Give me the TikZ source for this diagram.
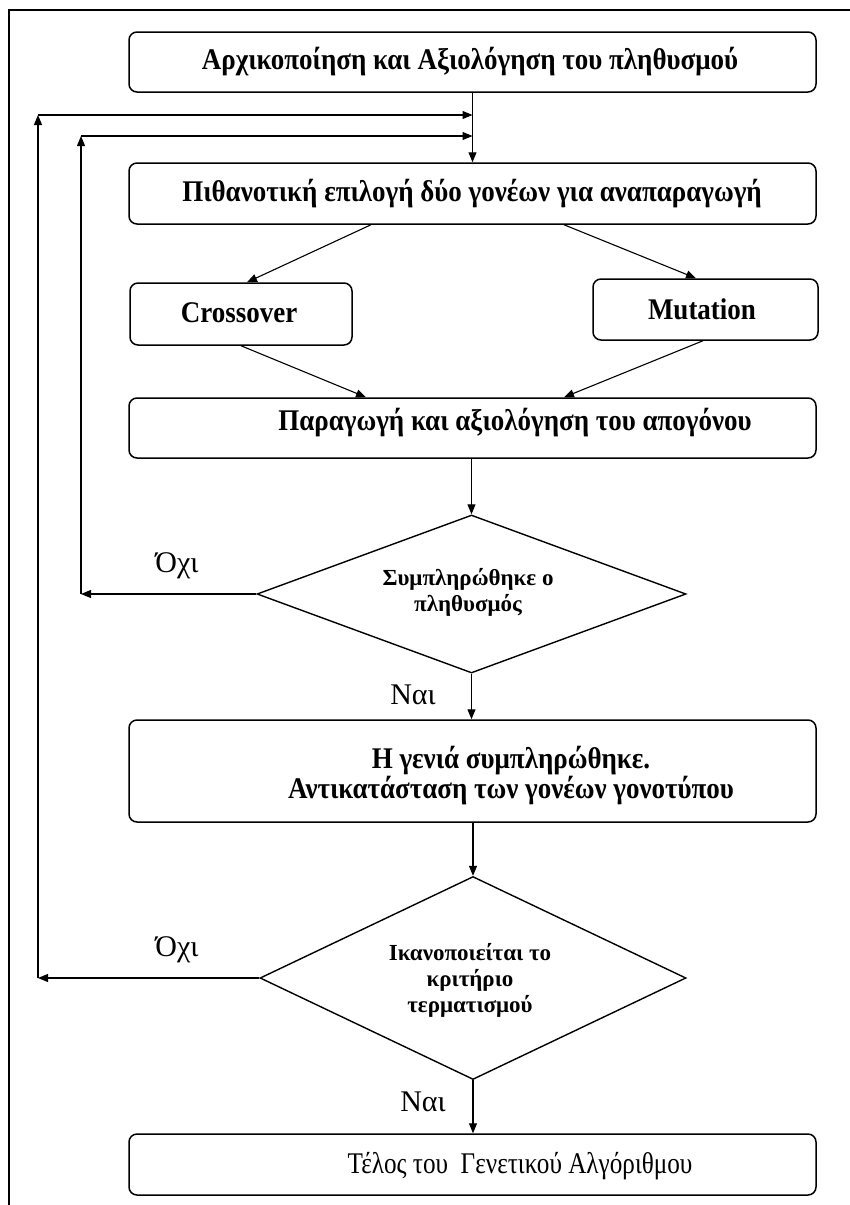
\documentclass[tikz,border=0pt]{standalone}
\usepackage{fontspec}
\setmainfont{Liberation Serif}
\newfontfamily\cndfont[FakeStretch=0.90]{Liberation Serif}
\newfontfamily\narfont[FakeStretch=0.84]{Liberation Serif}
\usetikzlibrary{shapes.geometric,arrows.meta}
\begin{document}
\begin{tikzpicture}[x=1pt,y=-1pt,
  box/.style={draw, rounded corners=8pt, line width=1.5pt, inner sep=0pt, minimum width=687pt},
  dia/.style={draw, diamond, line width=1.4pt, inner sep=0pt},
  arr/.style={-{Triangle[length=10pt,width=8pt]}, line width=1.1pt},
  bt/.style={font=\fontsize{30}{30}\cndfont\bfseries, inner sep=0pt, align=center},
  et/.style={font=\fontsize{30}{30}\narfont, inner sep=0pt, align=center},
  dt/.style={font=\fontsize{23}{26}\selectfont\bfseries, inner sep=0pt, align=center},
  lt/.style={font=\fontsize{30}{30}\selectfont, inner sep=0pt}]
\useasboundingbox (0,0) rectangle (850,1205);
\fill[white] (0,0) rectangle (850,1205);
\draw[line width=1.4pt] (9,1205) -- (9,10) -- (850,10);

% boxes
\node[box, minimum height=60pt] (b1) at (472.5,62) {};
\node[box, minimum height=61pt] (b2) at (472.5,193.5) {};
\node[box, minimum width=222pt, minimum height=62pt] (cx) at (241,314) {};
\node[box, minimum width=225pt, minimum height=61pt] (mu) at (705.5,309.5) {};
\node[box, minimum height=60pt] (b3) at (472.5,428) {};
\node[box, minimum height=102pt] (b4) at (472.5,771) {};
\node[box, minimum height=61pt] (b5) at (472.5,1164.5) {};
\node[dia, minimum width=429pt, minimum height=158pt] (d1) at (471.5,594) {};
\node[dia, minimum width=426pt, minimum height=203pt] (d2) at (473,978) {};

% texts
\node[bt] (t1) at (470,62) {Αρχικοποίηση και Αξιολόγηση του πληθυσμού};
\node[bt] (t2) at (472,194) {Πιθανοτική επιλογή δύο γονέων για αναπαραγωγή};
\node[bt] (tc) at (239,313) {Crossover};
\node[bt] (tm) at (702,309) {Mutation};
\node[bt] (t3) at (515,423) {Παραγωγή και αξιολόγηση του απογόνου};
\node[bt] (t4) at (511,776) {Η γενιά συμπληρώθηκε.\\Αντικατάσταση των γονέων γονοτύπου};
\node[et] (t5) at (520,1166) {Τέλος του\ \ Γενετικού Αλγόριθμου};
\node[dt] (td1) at (468,592) {Συμπληρώθηκε ο\\πληθυσμός};
\node[dt] (td2) at (470,980) {Ικανοποιείται το\\κριτήριο\\τερματισμού};

% labels
\node[lt] (no1) at (177,566) {Όχι};
\node[lt] (no2) at (177,950) {Όχι};
\node[lt] (ye1) at (413,695) {Ναι};
\node[lt] (ye2) at (423,1102) {Ναι};

% loop coordinates
\coordinate (l1) at (38,978);
\coordinate (l1t) at (38,115);
\coordinate (l2) at (81,594);
\coordinate (l2t) at (81,136);

% connectors
\draw[arr] (b1.south) -- (b2.north);
\draw[arr] (d2.west) -- (l1);
\draw[arr] (l1) -- (l1t);
\draw[arr] (l1t) -- (b1.south |- l1t);
\draw[arr] (d1.west) -- (l2);
\draw[arr] (l2) -- (l2t);
\draw[arr] (l2t) -- (b1.south |- l2t);
\draw[arr] ([xshift=-101.5pt]b2.south) -- ([xshift=6pt]cx.north);
\draw[arr] ([xshift=91.5pt]b2.south) -- ([xshift=-9.5pt]mu.north);
\draw[arr] (cx.south) -- ([xshift=-106.5pt]b3.north);
\draw[arr] ([xshift=-2.5pt]mu.south) -- ([xshift=91.5pt]b3.north);
\draw[arr] (d1.north |- b3.south) -- (d1.north);
\draw[arr] (d1.south) -- (d1.south |- b4.north);
\draw[arr] (d2.north |- b4.south) -- (d2.north);
\draw[arr] (d2.south) -- (d2.south |- b5.north);
\end{tikzpicture}
\end{document}
